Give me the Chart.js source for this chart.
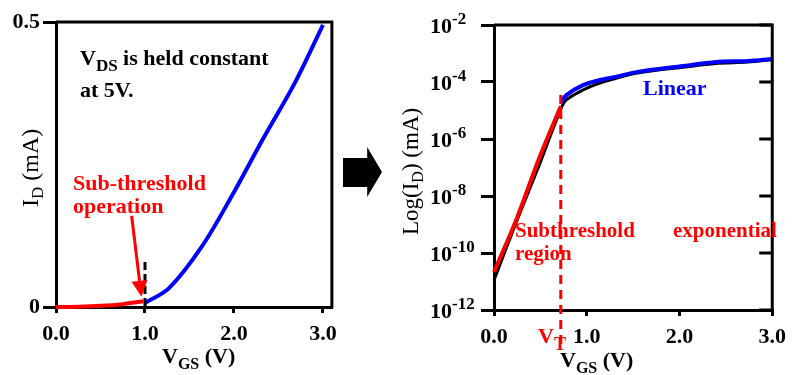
<!DOCTYPE html>
<html>
<head>
<meta charset="utf-8">
<script src="https://cdn.jsdelivr.net/npm/chart.js@4"></script>
<style>
  html, body { margin: 0; padding: 0; background: #fff; }
  #wrap { position: relative; width: 794px; height: 375px; overflow: hidden; background: #fff; }
  #c1 { position: absolute; left: 0; top: 0; }
  #c2 { position: absolute; left: 345px; top: 0; }
  #arrow {
    position: absolute; left: 343px; top: 147px; width: 39px; height: 50px; background: #000;
    clip-path: polygon(0 22%, 62% 22%, 62% 0, 100% 50%, 62% 100%, 62% 80%, 0 80%);
  }
</style>
</head>
<body>
<div id="wrap">
  <canvas id="c1" width="345" height="375"></canvas>
  <canvas id="c2" width="449" height="375"></canvas>
  <div id="arrow"></div>
</div>
<script>
// ---- left panel: I_D (mA) vs V_GS, linear axis ----
const linRedVgs = [0, 0.25, 0.5, 0.75, 0.98];
const linRedId = [0, 0.0005, 0.002, 0.005, 0.010];
const linBlueVgs = [1.0, 1.27, 1.63, 1.98, 2.33, 2.69, 3.0];
const linBlueId = [0.007, 0.033, 0.104, 0.196, 0.296, 0.395, 0.495];
const linXTicks = [0, 1, 2, 3];
const linYTicks = [0, 0.5];
const linVt = 1.0;          // dashed marker position
const linVtTop = 0.079;     // dashed marker top (mA)
const linArrowVgs = [0.85, 0.96];
const linArrowId = [0.16, 0.018];

// ---- right panel: log I_D (mA) vs V_GS ----
const logBlackVgs = [0, 0.25, 0.49, 0.72, 0.78, 0.96, 1.14, 1.31, 1.49, 1.68, 2.04, 2.39, 2.74, 3.0];
const logBlackId = [1.12e-11, 1.45e-9, 1.26e-7, 1.12e-5, 2.34e-5, 5.25e-5, 9.12e-5, 1.32e-4, 1.91e-4, 2.40e-4, 3.31e-4, 4.47e-4, 5.01e-4, 6.03e-4];
const logRedVgs = [0, 0.25, 0.49, 0.72];
const logRedId = [2.14e-11, 1.78e-9, 2.24e-7, 1.41e-5];
const logBlueVgs = [0.72, 0.78, 0.96, 1.14, 1.31, 1.49, 1.68, 2.04, 2.39, 2.74, 3.0];
const logBlueId = [1.82e-5, 3.47e-5, 7.76e-5, 1.17e-4, 1.51e-4, 2.09e-4, 2.63e-4, 3.63e-4, 5.01e-4, 5.50e-4, 6.46e-4];
const logXTicks = [0, 1, 2, 3];
const logYExp = [-12, -10, -8, -6, -4, -2];
const vThreshold = 0.72;
const vtTopId = 3.5e-5;

const RED = '#ff0000', BLUE = '#0000ff', BLACK = '#000';
const serif = '"Liberation Serif", "Times New Roman", serif';
const bold = px => 'bold ' + px + 'px ' + serif;
const plain = px => px + 'px ' + serif;

const toPoints = (xs, ys) => xs.map((x, i) => ({ x: x, y: ys[i] }));

function lineSet(xs, ys, color, width) {
    return {
        data: toPoints(xs, ys),
        borderColor: color,
        borderWidth: width || 4,
        pointRadius: 0,
        tension: 0.35,
        clip: 8
    };
}

// text with a lowered subscript, returns the x where it ends
function subText(ctx, x, y, main, sub, font, subFont, drop) {
    ctx.font = font;
    ctx.fillText(main, x, y);
    const w = ctx.measureText(main).width;
    ctx.font = subFont;
    ctx.fillText(sub, x + w, y + drop);
    return x + w + ctx.measureText(sub).width;
}

const axisCommon = {
    border: { color: BLACK, width: 3 },
    grid: { drawOnChartArea: false, color: BLACK, lineWidth: 3 }
};

const linDecor = {
    id: 'linDecor',
    afterDraw(chart) {
        const { ctx, chartArea: a, scales: { x, y } } = chart;
        ctx.save();
        ctx.strokeStyle = BLACK;
        ctx.lineWidth = 3;
        ctx.beginPath();
        ctx.moveTo(a.left, a.top);
        ctx.lineTo(a.right, a.top);
        ctx.lineTo(a.right, a.bottom + 1);
        ctx.stroke();

        // dashed marker at V_GS = 1.0
        const vx = x.getPixelForValue(linVt);
        ctx.setLineDash([8, 4]);
        ctx.beginPath();
        ctx.moveTo(vx, y.getPixelForValue(linVtTop));
        ctx.lineTo(vx, a.bottom);
        ctx.stroke();
        ctx.setLineDash([]);

        // red arrow to the sub-threshold part
        const x0 = x.getPixelForValue(linArrowVgs[0]), y0 = y.getPixelForValue(linArrowId[0]);
        const x1 = x.getPixelForValue(linArrowVgs[1]), y1 = y.getPixelForValue(linArrowId[1]);
        const ang = Math.atan2(y1 - y0, x1 - x0);
        const hl = 16, hw = 8;
        const bx = x1 - hl * Math.cos(ang), by = y1 - hl * Math.sin(ang);
        ctx.strokeStyle = RED;
        ctx.fillStyle = RED;
        ctx.beginPath();
        ctx.moveTo(x0, y0);
        ctx.lineTo(bx, by);
        ctx.stroke();
        ctx.beginPath();
        ctx.moveTo(x1, y1);
        ctx.lineTo(bx + hw * Math.sin(ang), by - hw * Math.cos(ang));
        ctx.lineTo(bx - hw * Math.sin(ang), by + hw * Math.cos(ang));
        ctx.closePath();
        ctx.fill();

        // notes
        ctx.textBaseline = 'alphabetic';
        ctx.textAlign = 'left';
        ctx.fillStyle = BLACK;
        const e = subText(ctx, 80, 65, 'V', 'DS', bold(22), bold(17), 6);
        ctx.font = bold(22);
        ctx.fillText(' is held constant', e, 65);
        ctx.fillText('at 5V.', 80, 97);
        ctx.fillStyle = RED;
        ctx.fillText('Sub-threshold', 73, 190);
        ctx.fillText('operation', 73, 213);

        // axis titles
        ctx.fillStyle = BLACK;
        const ge = subText(ctx, 162, 363, 'V', 'GS', bold(22), bold(16), 6);
        ctx.font = bold(22);
        ctx.fillText(' (V)', ge, 363);

        ctx.translate(38, 207);
        ctx.rotate(-Math.PI / 2);
        const ie = subText(ctx, 0, 0, 'I', 'D', plain(24), plain(17), 5);
        ctx.font = plain(24);
        ctx.fillText(' (mA)', ie, 0);
        ctx.restore();
    }
};

new Chart(document.getElementById('c1'), {
    type: 'line',
    data: {
        datasets: [
            lineSet(linRedVgs, linRedId, RED),
            lineSet(linBlueVgs, linBlueId, BLUE)
        ]
    },
    options: {
        responsive: false,
        animation: false,
        layout: { padding: { top: 22, right: 8, left: 0, bottom: 0 } },
        plugins: { legend: { display: false }, tooltip: { enabled: false } },
        scales: {
            x: {
                type: 'linear', min: 0, max: 3.1,
                ...axisCommon,
                grid: { ...axisCommon.grid, tickLength: 6 },
                afterBuildTicks: s => { s.ticks = linXTicks.map(v => ({ value: v })); },
                afterFit: s => { s.height = 68; },
                ticks: { color: BLACK, font: { family: serif, size: 22, weight: 'bold' }, padding: 8,
                         maxRotation: 0, autoSkip: false, callback: v => v.toFixed(1) }
            },
            y: {
                type: 'linear', min: 0, max: 0.5,
                ...axisCommon,
                grid: { ...axisCommon.grid, tickLength: 13 },
                afterBuildTicks: s => { s.ticks = linYTicks.map(v => ({ value: v })); },
                afterFit: s => { s.width = 56; },
                ticks: { color: BLACK, font: { family: serif, size: 22, weight: 'bold' }, padding: 3,
                         callback: v => v === 0 ? '0' : String(v) }
            }
        }
    },
    plugins: [linDecor]
});

const logDecor = {
    id: 'logDecor',
    afterDraw(chart) {
        const { ctx, chartArea: a, scales: { x, y } } = chart;
        ctx.save();
        ctx.strokeStyle = BLACK;
        ctx.lineWidth = 3;
        ctx.beginPath();
        ctx.moveTo(a.left, a.top);
        ctx.lineTo(a.right, a.top);
        ctx.lineTo(a.right, a.bottom + 1);
        ctx.stroke();

        // inward ticks on the right frame + y tick labels
        ctx.textBaseline = 'alphabetic';
        ctx.textAlign = 'left';
        ctx.fillStyle = BLACK;
        logYExp.forEach(ex => {
            const ty = y.getPixelForValue(Math.pow(10, ex));
            ctx.beginPath();
            ctx.moveTo(a.right - 13, ty);
            ctx.lineTo(a.right, ty);
            ctx.stroke();
            ctx.font = bold(22);
            ctx.fillText('10', a.left - 64, ty + 8);
            const w = ctx.measureText('10').width;
            ctx.font = bold(17);
            ctx.fillText(String(ex), a.left - 64 + w, ty - 1);
        });

        // threshold voltage marker
        const vx = x.getPixelForValue(vThreshold);
        ctx.strokeStyle = RED;
        ctx.setLineDash([9, 6]);
        ctx.beginPath();
        ctx.moveTo(vx, y.getPixelForValue(vtTopId));
        ctx.lineTo(vx, a.bottom + 38);
        ctx.stroke();
        ctx.setLineDash([]);

        ctx.fillStyle = RED;
        subText(ctx, 193, 343, 'V', 'T', bold(22), bold(18), 7);

        ctx.font = bold(21);
        ctx.fillText('Subthreshold', 170, 237);
        ctx.fillText('region', 170, 260);
        ctx.fillText('exponential', 328, 237);
        ctx.fillStyle = BLUE;
        ctx.font = bold(22);
        ctx.fillText('Linear', 298, 95);

        // axis titles
        ctx.fillStyle = BLACK;
        const ge = subText(ctx, 215, 367, 'V', 'GS', bold(22), bold(16), 6);
        ctx.font = bold(22);
        ctx.fillText(' (V)', ge, 367);

        ctx.translate(73, 235);
        ctx.rotate(-Math.PI / 2);
        const le = subText(ctx, 0, 0, 'Log(I', 'D', plain(23), plain(16), 5);
        ctx.font = plain(23);
        ctx.fillText(') (mA)', le, 0);
        ctx.restore();
    }
};

new Chart(document.getElementById('c2'), {
    type: 'line',
    data: {
        datasets: [
            lineSet(logRedVgs, logRedId, RED),
            lineSet(logBlueVgs, logBlueId, BLUE),
            lineSet(logBlackVgs, logBlackId, BLACK, 3)
        ]
    },
    options: {
        responsive: false,
        animation: false,
        layout: { padding: { top: 25, right: 16, left: 0, bottom: 0 } },
        plugins: { legend: { display: false }, tooltip: { enabled: false } },
        scales: {
            x: {
                type: 'linear', min: 0, max: 3,
                ...axisCommon,
                grid: { ...axisCommon.grid, tickLength: 6 },
                afterBuildTicks: s => { s.ticks = logXTicks.map(v => ({ value: v })); },
                afterFit: s => { s.height = 65; },
                ticks: { color: BLACK, font: { family: serif, size: 22, weight: 'bold' }, padding: 8,
                         maxRotation: 0, autoSkip: false, callback: v => v.toFixed(1) }
            },
            y: {
                type: 'logarithmic', min: 1e-12, max: 1e-2,
                ...axisCommon,
                grid: { ...axisCommon.grid, tickLength: 13 },
                afterBuildTicks: s => { s.ticks = logYExp.map(ex => ({ value: Math.pow(10, ex) })); },
                afterFit: s => { s.width = 149; },
                ticks: { display: false }
            }
        }
    },
    plugins: [logDecor]
});
</script>
</body>
</html>
